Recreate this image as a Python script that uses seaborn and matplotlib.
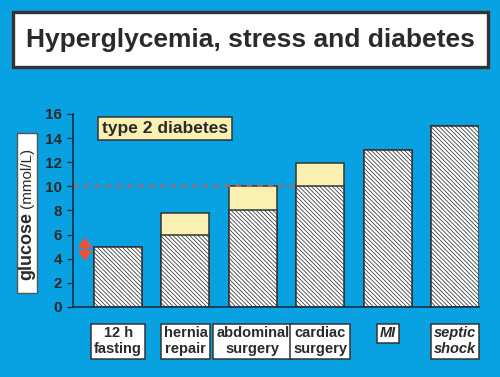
import matplotlib
matplotlib.use("Agg")
import matplotlib.pyplot as plt
import seaborn as sns
import pandas as pd
from matplotlib.patches import Rectangle

# ---- data ----
categories = ["12 h\nfasting", "hernia\nrepair", "abdominal\nsurgery",
              "cardiac\nsurgery", "MI", "septic\nshock"]
stress_glucose = [5, 6, 8, 10, 13, 15]          # hatched part
diabetes_glucose = [5, 7.8, 10, 11.9, 13, 15]   # top of yellow (type 2 diabetes)
italic_cats = ["MI", "septic\nshock"]
threshold = 10
normal_range = (3.8, 5.8)
yticks = list(range(0, 17, 2))
title = "Hyperglycemia, stress and diabetes"
legend_label = "type 2 diabetes"

# ---- styling ----
BG = "#08A1E1"
YELLOW = "#FAF0B2"
EDGE = "#333333"
RED = "#E8533C"
TXT = "#2a2a2a"

sns.set_theme(style="white")
plt.rcParams["font.family"] = ["Liberation Sans", "DejaVu Sans"]
plt.rcParams["hatch.linewidth"] = 0.55

fig = plt.figure(figsize=(5.0, 3.77), dpi=100, facecolor=BG)
W, H = 500, 377
ax = fig.add_axes([73 / W, 1 - 307 / H, (479 - 73) / W, (307 - 114) / H])
ax.set_facecolor(BG)

df = pd.DataFrame({"cat": categories, "stress": stress_glucose, "diab": diabetes_glucose})
bw = 0.713
sns.barplot(data=df, x="cat", y="diab", color=YELLOW, saturation=1, width=bw,
            edgecolor=EDGE, linewidth=1.1, ax=ax)
sns.barplot(data=df, x="cat", y="stress", color="white", saturation=1, width=bw,
            edgecolor=EDGE, linewidth=1.1, hatch="\\" * 8, ax=ax)

ax.set_xlim(-0.669, 5 + bw / 2)
ax.set_ylim(0, 16)
ax.set_yticks(yticks)
ax.set_yticklabels([str(t) for t in yticks], fontweight="bold", fontsize=11, color=TXT)
ax.set_xlabel("")

for s in ["top", "right"]:
    ax.spines[s].set_visible(False)
for s in ["left", "bottom"]:
    ax.spines[s].set_color("#1f2f3f")
    ax.spines[s].set_linewidth(1.2)

ax.tick_params(axis="y", direction="out", length=4, width=1, color="#1f2f3f", pad=4, left=True)
ax.tick_params(axis="x", length=0, pad=14)
for lab in ax.get_xticklabels():
    t = lab.get_text()
    lab.set_fontweight("bold")
    lab.set_fontsize(10.5)
    lab.set_color(TXT)
    lab.set_linespacing(1.15)
    if t in italic_cats:
        lab.set_fontstyle("italic")
    lab.set_bbox(dict(boxstyle="square,pad=0.2", fc="white", ec=EDGE, lw=1.1))

# threshold dashed line up to 4th bar
ax.hlines(threshold, ax.get_xlim()[0], 3 - bw / 2, colors=RED,
          linestyles=(0, (3, 3)), lw=1.3, zorder=1)

# normal range arrow
ax.annotate("", xy=(-0.49, normal_range[0]), xytext=(-0.49, normal_range[1]),
            arrowprops=dict(arrowstyle="<|-|>,head_width=0.35,head_length=0.5",
                            color=RED, lw=2.2, shrinkA=0, shrinkB=0,
                            mutation_scale=10))

# legend label
ax.text(0.2266, 0.925, legend_label, transform=ax.transAxes, ha="center", va="center",
        fontsize=12.5, fontweight="bold", color=TXT,
        bbox=dict(boxstyle="square,pad=0.25", fc=YELLOW, ec=EDGE, lw=1.1))

# y label
ax.set_ylabel("")
fig.patches.append(Rectangle((17 / W, 1 - 293 / H), 20 / W, 160 / H, transform=fig.transFigure,
                             fc="white", ec="#555555", lw=1.0))
fig.text(27 / W, 1 - 245.5 / H, "glucose", rotation=90, ha="center", va="center",
         fontsize=13, fontweight="bold", color=TXT)
fig.text(27 / W, 1 - 177.5 / H, "(mmol/L)", rotation=90, ha="center", va="center",
         fontsize=11, color=TXT)

# title
fig.patches.append(Rectangle((13 / W, 1 - 67 / H), 475 / W, 55 / H, transform=fig.transFigure,
                             fc="white", ec="#333333", lw=2.4))
fig.text(250 / W, 1 - 39.5 / H, title, ha="center", va="center",
         fontsize=19, fontweight="bold", color=TXT)

fig.savefig("out.png", dpi=100, facecolor=BG)
